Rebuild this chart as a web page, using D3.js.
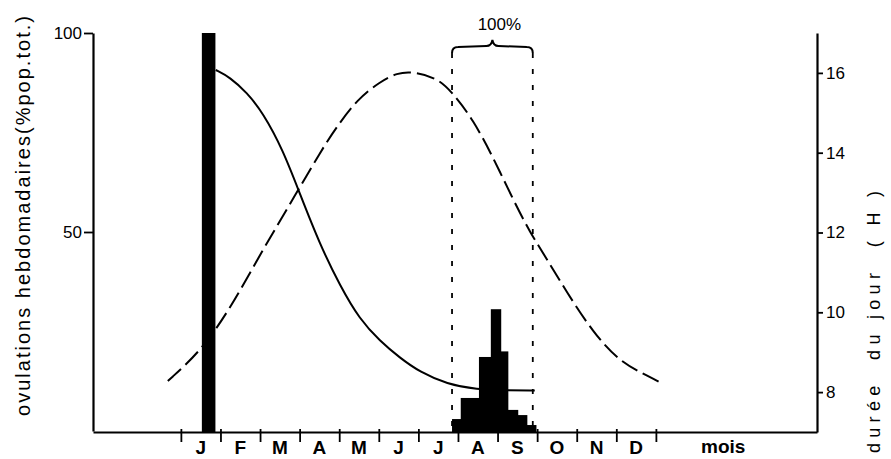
<!DOCTYPE html>
<html><head><meta charset="utf-8">
<script src="https://cdn.jsdelivr.net/npm/d3@7"></script>
<style>body{margin:0;background:#fff}svg{display:block}text{font-family:"Liberation Sans",Arial,sans-serif;fill:#000}</style>
</head><body>
<svg id="c" width="891" height="459"></svg>
<script>
// ---- data ----
const months = ["J","F","M","A","M","J","J","A","S","O","N","D"];
const leftTicks = [50, 100];
const rightTicks = [8, 10, 12, 14, 16];
// weekly ovulation bars (month position start / end, % of total population)
const barStart = [0.53, 6.85, 7.07, 7.53, 7.83, 8.08, 8.26, 8.51, 8.74];
const barEnd   = [0.86, 7.07, 7.53, 7.83, 8.08, 8.26, 8.51, 8.74, 8.97];
const barValue = [100, 3, 8.3, 18.6, 30.6, 20, 5.3, 4, 1.5];
// solid curve (left scale, %)
const solidMonth = [0.88, 1.24, 1.67, 2.07, 2.58, 3.01, 3.51, 4.02, 4.52, 5.03, 5.53, 6.04, 6.72, 7.48, 8.2, 8.94];
const solidValue = [90.7, 88.9, 85.0, 80.0, 70.6, 59.5, 46.9, 36.5, 28.0, 22.6, 18.4, 14.8, 11.8, 10.4, 10.2, 10.2];
// day length (right scale, hours)
const dayMonth = [-0.33, 0.48, 1.24, 2.0, 2.75, 3.56, 3.94, 4.45, 5.03, 5.46, 5.86, 6.47, 6.87, 7.38, 7.88, 8.39, 8.82, 9.25, 9.75, 10.41, 11.09, 11.85, 12.18];
const dayHours = [8.28, 9.0, 10.08, 11.45, 12.7, 14.08, 14.65, 15.33, 15.78, 16.0, 16.03, 15.88, 15.5, 14.83, 13.9, 12.83, 12.0, 11.33, 10.5, 9.5, 8.75, 8.38, 8.2];
// bracket spanning the second ovulation period
const bracketMonths = [6.85, 8.89];
const bracketLabel = "100%";

// ---- drawing ----
const svg = d3.select("#c");
const x = d3.scaleLinear().domain([-2.22, 16.07]).range([93, 817]);
const yL = d3.scaleLinear().domain([0, 100]).range([431, 33]);
const yR = d3.scaleLinear().domain([7, 17]).range([432, 33]);

// bars
svg.append("g").selectAll("rect").data(barValue).join("rect")
  .attr("x", (d,i) => x(barStart[i]))
  .attr("width", (d,i) => x(barEnd[i]) - x(barStart[i]) + 0.5)
  .attr("y", d => yL(d))
  .attr("height", d => yL(0) - yL(d) + 1)
  .attr("fill", "#000");

// dotted verticals + brace
const bx0 = x(bracketMonths[0]), bx1 = x(bracketMonths[1]);
svg.append("g").selectAll("line").data(bracketMonths).join("line")
  .attr("x1", d => x(d)).attr("x2", d => x(d))
  .attr("y1", 53).attr("y2", yL(0))
  .attr("stroke", "#000").attr("stroke-width", 1.8)
  .attr("stroke-dasharray", "5,11");
const bm = (bx0 + bx1) / 2;
svg.append("path")
  .attr("d", `M${bx0},53 Q${bx0},47 ${bx0+6},47 L${bm-6},46 Q${bm-1},46 ${bm},40 Q${bm+1},46 ${bm+6},46 L${bx1-6},47 Q${bx1},47 ${bx1},53`)
  .attr("fill", "none").attr("stroke", "#000").attr("stroke-width", 2);
svg.append("text").attr("x", bm + 7).attr("y", 30)
  .attr("text-anchor", "middle").attr("font-size", 17).text(bracketLabel);

// solid curve
svg.append("path")
  .attr("d", d3.line().x((d,i) => x(solidMonth[i])).y(d => yL(d)).curve(d3.curveBasis)(solidValue))
  .attr("fill", "none").attr("stroke", "#000").attr("stroke-width", 2);

// dashed curve
svg.append("path")
  .attr("d", d3.line().x((d,i) => x(dayMonth[i])).y(d => yR(d)).curve(d3.curveBasis)(dayHours))
  .attr("fill", "none").attr("stroke", "#000").attr("stroke-width", 2)
  .attr("stroke-dasharray", "18,6");

// axes
const gL = svg.append("g").attr("transform", `translate(${x.range()[0]},0)`)
  .call(d3.axisLeft(yL).tickValues(leftTicks).tickSize(9).tickSizeOuter(0).tickPadding(2));
const gR = svg.append("g").attr("transform", `translate(${x.range()[1]},0)`)
  .call(d3.axisRight(yR).tickValues(rightTicks).tickSize(6).tickSizeOuter(0).tickPadding(3));
const gB = svg.append("g").attr("transform", `translate(0,${yL(0)+1})`)
  .call(d3.axisBottom(x).tickValues(d3.range(0, 13)).tickSize(10).tickSizeOuter(0).tickFormat(""));
[gL, gR, gB].forEach(g => {
  g.select(".domain").attr("stroke", "#000").attr("stroke-width", 2.2);
  g.selectAll(".tick line").attr("stroke", "#000").attr("stroke-width", 1.8);
  g.selectAll(".tick text").attr("font-size", 17).attr("fill", "#000")
    .style("font-family", '"Liberation Sans",Arial,sans-serif');
});
gB.selectAll(".tick line").attr("y1", -3);

// month labels between ticks
svg.append("g").selectAll("text").data(months).join("text")
  .attr("x", (d,i) => x(i + 0.5)).attr("y", 454)
  .attr("text-anchor", "middle").attr("font-size", 19).attr("font-weight", "bold")
  .text(d => d);
svg.append("text").attr("x", x(13.7)).attr("y", 453)
  .attr("text-anchor", "middle").attr("font-size", 19).attr("font-weight", "bold").text("mois");

// axis titles
svg.append("text").attr("transform", "translate(30,216) rotate(-90)")
  .attr("text-anchor", "middle").attr("font-size", 20)
  .attr("textLength", 400).attr("lengthAdjust", "spacing")
  .text("ovulations hebdomadaires(%pop.tot.)");
svg.append("text").attr("transform", "translate(880,322) rotate(-90)")
  .attr("text-anchor", "middle").attr("font-size", 18)
  .attr("textLength", 262).attr("lengthAdjust", "spacing")
  .style("white-space", "pre")
  .text("durée  du jour  ( H )");
</script>
</body></html>
